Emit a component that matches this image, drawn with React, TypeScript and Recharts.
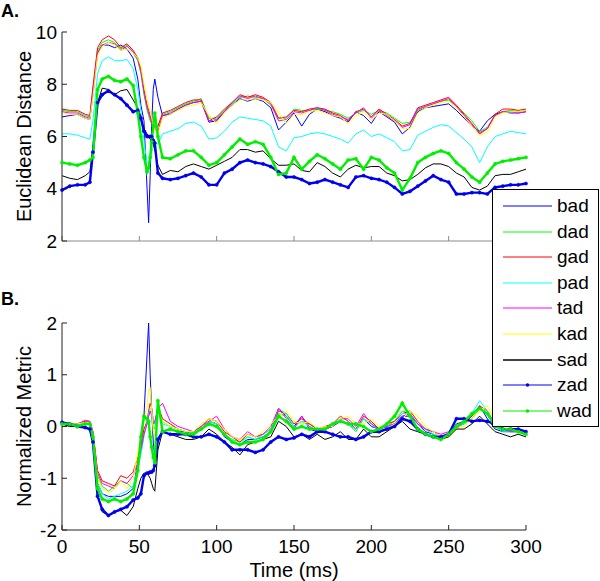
import React from "react";
import { LineChart, Line, XAxis, YAxis } from "recharts";

// sample times (ms); denser around the onset transient
const TIME = [
  0, 5, 10, 15, 18, 20, 23, 26, 30, 34, 38, 42, 46, 49, 51, 53, 55, 56, 57, 58, 59, 60, 62, 65,
  70, 75, 80, 85, 90, 95, 100, 105, 110, 115,
  120, 125, 130, 135, 140, 145, 150, 155, 160, 165,
  170, 175, 180, 185, 190, 195, 200, 205, 210, 215,
  220, 225, 230, 235, 240, 245, 250, 255, 260, 265,
  270, 275, 280, 285, 290, 295, 300,
];

const X_TICKS = [0, 50, 100, 150, 200, 250, 300];
const A_TICKS = [2, 4, 6, 8, 10];
const B_TICKS = [-2, -1, 0, 1, 2];

// --- panel A: Euclidean distance ---
const BAD_A = [
  6.75, 6.8, 6.85, 6.7, 6.65, 7.6, 9.2, 9.5, 9.5, 9.4, 9.5, 9.35, 9.0, 8.2, 7.2, 6.6, 4.0, 2.7, 4.5, 6.5, 7.8, 8.2, 7.5, 6.8,
  6.85, 7.05, 7.2, 7.3, 7.35, 6.55, 6.6, 6.95, 7.2, 7.45,
  7.35, 7.45, 7.35, 7.1, 6.25, 6.55, 6.9, 6.4, 6.85, 7.05,
  6.95, 6.8, 6.7, 6.55, 6.95, 6.8, 6.5, 6.95, 6.75, 6.55,
  6.1, 6.35, 6.95, 7.1, 7.15, 7.2, 7.25, 7.0, 6.7, 6.4,
  6.2, 6.6, 6.85, 6.95, 6.9, 6.9, 6.95,
];
const DAD_A = [
  7.0, 6.95, 6.95, 6.8, 6.75, 7.8, 9.3, 9.6, 9.7, 9.6, 9.35, 9.5, 9.2, 8.9, 8.4, 7.6, 7.0, 6.8, 6.6, 6.5, 6.4, 6.35, 6.35, 6.85,
  6.95, 7.1, 7.25, 7.35, 7.45, 6.7, 6.7, 7.0, 7.25, 7.5,
  7.55, 7.5, 7.45, 7.2, 6.7, 6.7, 7.05, 7.0, 7.0, 7.05,
  7.0, 6.95, 6.85, 6.7, 6.9, 7.0, 6.85, 7.0, 6.9, 6.7,
  6.5, 6.55, 7.0, 7.15, 7.25, 7.35, 7.4, 7.15, 6.9, 6.6,
  6.2, 6.35, 6.8, 6.95, 7.0, 6.95, 7.0,
];
const GAD_A = [
  7.05, 7.0, 7.0, 6.85, 6.8, 7.9, 9.4, 9.7, 9.85, 9.7, 9.4, 9.55, 9.3, 9.0, 8.6, 7.8, 7.2, 7.0, 6.8, 6.6, 6.5, 6.4, 6.4, 6.9,
  7.0, 7.15, 7.3, 7.4, 7.4, 6.6, 6.75, 7.05, 7.3, 7.6,
  7.5, 7.6, 7.5, 7.3, 6.7, 6.75, 7.0, 6.95, 7.05, 7.1,
  7.05, 6.9, 6.8, 6.6, 6.95, 7.05, 6.75, 7.05, 6.85, 6.65,
  6.4, 6.5, 7.1, 7.2, 7.3, 7.4, 7.5, 7.2, 6.85, 6.5,
  6.1, 6.3, 6.85, 7.05, 7.05, 7.0, 7.05,
];
const PAD_A = [
  6.1, 6.1, 6.05, 5.95, 5.9, 6.6, 8.4, 8.9, 9.05, 8.9, 8.9, 8.95, 8.6, 7.8, 7.0, 5.8, 5.0, 5.0, 5.2, 5.4, 5.6, 5.8, 5.7, 6.1,
  6.2, 6.3, 6.5, 6.55, 6.4, 5.9, 5.95, 6.2, 6.55, 6.75,
  6.7, 6.65, 6.6, 6.4, 5.6, 5.45, 5.95, 6.0, 6.1, 6.15,
  6.1, 6.0, 5.9, 5.75, 6.1, 6.25, 6.0, 6.1, 5.95, 5.8,
  5.45, 5.5, 6.05, 6.2, 6.35, 6.45, 6.4, 6.15, 5.9, 5.6,
  5.0, 5.6, 6.0, 6.1, 6.2, 6.15, 6.1,
];
const TAD_A = [
  6.95, 6.9, 6.9, 6.75, 6.7, 7.7, 9.2, 9.5, 9.6, 9.55, 9.3, 9.45, 9.25, 8.95, 8.5, 7.7, 7.1, 6.9, 6.7, 6.5, 6.4, 6.3, 6.2, 6.8,
  6.9, 7.05, 7.2, 7.3, 7.35, 6.6, 6.65, 6.95, 7.3, 7.55,
  7.45, 7.55, 7.45, 7.25, 6.6, 6.65, 6.95, 6.9, 7.0, 7.1,
  7.0, 6.85, 6.75, 6.65, 6.9, 7.1, 6.7, 7.0, 6.8, 6.6,
  6.35, 6.45, 7.05, 7.15, 7.25, 7.35, 7.45, 7.15, 6.8, 6.45,
  6.15, 6.3, 6.8, 6.95, 6.95, 6.9, 6.95,
];
const KAD_A = [
  6.9, 6.85, 6.85, 6.7, 6.65, 7.5, 9.1, 9.45, 9.6, 9.5, 9.3, 9.35, 9.2, 9.0, 8.7, 8.0, 7.4, 7.2, 7.0, 6.7, 6.4, 6.2, 6.1, 6.7,
  6.85, 7.0, 7.15, 7.2, 7.3, 6.8, 6.5, 6.9, 7.2, 7.4,
  7.4, 7.45, 7.4, 7.3, 6.9, 6.5, 6.85, 6.85, 6.95, 7.0,
  6.9, 6.8, 6.75, 6.5, 6.8, 6.95, 6.6, 6.9, 6.85, 6.6,
  6.3, 6.3, 6.9, 7.1, 7.2, 7.3, 7.35, 7.1, 6.75, 6.4,
  6.05, 6.15, 6.75, 6.9, 6.95, 6.95, 7.0,
];
const SAD_A = [
  4.5, 4.4, 4.35, 4.5, 4.65, 5.5, 7.3, 7.85, 7.8, 7.6, 7.75, 7.8, 7.4, 7.1, 6.7, 6.3, 6.1, 6.0, 5.9, 5.8, 5.7, 5.5, 4.9, 4.55,
  4.7, 4.65, 4.85, 4.95, 4.85, 4.75, 4.9, 5.05, 5.2, 5.5,
  5.5, 5.4, 5.45, 5.15, 4.9, 4.9, 4.95, 4.7, 4.65, 5.0,
  4.85, 4.6, 4.45, 4.75, 4.9, 4.8, 4.85, 4.85, 4.6, 4.5,
  4.3, 4.35, 4.55, 4.8, 4.95, 4.95, 4.85, 4.6, 4.45, 4.05,
  3.95, 4.1, 4.5, 4.55, 4.55, 4.65, 4.75,
];
const ZAD_A = [
  3.95, 4.1, 4.15, 4.15, 4.25, 5.4, 7.3, 7.6, 7.75, 7.6, 7.45, 7.2, 6.95, 7.0, 6.7, 6.2, 6.0, 6.0, 6.0, 6.0, 5.85, 5.75, 4.6, 4.4,
  4.35, 4.4, 4.5, 4.6, 4.45, 4.15, 4.15, 4.6, 4.75, 5.0,
  5.1, 5.0, 4.95, 4.85, 4.65, 4.45, 4.45, 4.35, 4.2, 4.25,
  4.35, 4.25, 4.15, 4.05, 4.45, 4.5, 4.4, 4.35, 4.25, 4.05,
  3.8, 3.9, 4.1, 4.3, 4.5, 4.35, 4.25, 3.8, 3.8, 3.85,
  3.85, 3.8, 4.05, 4.1, 4.15, 4.15, 4.2,
];
const WAD_A = [
  5.0, 4.95, 4.9, 5.0, 5.1, 5.2, 7.8, 8.2, 8.3, 8.15, 8.1, 8.2, 7.95, 6.9, 6.0, 5.2, 4.65, 4.8, 5.2, 5.8, 6.4, 6.9, 6.0, 5.2,
  5.15, 5.3, 5.45, 5.45, 5.2, 4.9, 5.0, 5.3, 5.6, 5.9,
  5.7, 5.8, 5.7, 5.2, 4.55, 4.6, 5.2, 4.75, 5.05, 5.3,
  5.15, 4.95, 4.75, 5.1, 5.15, 4.75, 5.2, 5.1, 4.8, 4.6,
  3.95, 4.4, 5.0, 5.2, 5.35, 5.45, 5.35, 5.0, 4.75, 4.45,
  4.25, 4.6, 4.95, 5.05, 5.1, 5.15, 5.2,
];

// --- panel B: normalized metric ---
const BAD_B = [
  0.05, 0.05, 0.05, 0.05, 0.05, -0.2, -1.1, -1.3, -1.35, -1.35, -1.35, -1.3, -1.2, -0.7, -0.4, 0.2, 1.4, 2.0, 1.0, 0.3, -0.3, -0.6, -0.3, -0.1,
  -0.05, -0.1, -0.1, -0.15, -0.05, 0.1, 0.05, -0.2, -0.3, -0.35,
  -0.25, -0.25, -0.2, -0.1, 0.35, 0.2, 0.0, 0.2, -0.05, -0.1,
  -0.05, 0.0, 0.1, 0.05, -0.05, 0.15, 0.0, -0.05, 0.0, 0.05,
  0.2, 0.2, 0.05, -0.1, -0.15, -0.25, -0.15, 0.05, 0.1, 0.2,
  0.4, 0.15, -0.05, -0.1, -0.1, -0.1, -0.15,
];
const DAD_B = [
  0.05, 0.05, 0.05, 0.08, 0.08, -0.15, -0.95, -1.15, -1.25, -1.15, -1.05, -1.1, -1.2, -0.85, -0.5, -0.15, 0.05, 0.2, 0.3, 0.25, 0.0, -0.05, 0.35, 0.1,
  0.0, -0.05, -0.1, -0.12, -0.05, 0.1, 0.05, -0.15, -0.25, -0.3,
  -0.2, -0.25, -0.2, -0.1, 0.25, 0.2, 0.0, 0.1, 0.05, -0.05,
  -0.05, 0.05, 0.1, 0.05, -0.1, 0.15, 0.05, -0.05, 0.0, 0.1,
  0.3, 0.25, 0.05, -0.05, -0.15, -0.2, -0.15, 0.0, 0.05, 0.15,
  0.35, 0.25, 0.0, -0.05, -0.1, -0.1, -0.15,
];
const GAD_B = [
  0.05, 0.05, 0.05, 0.1, 0.1, -0.1, -0.85, -1.05, -1.1, -1.15, -0.95, -1.0, -0.88, -0.6, -0.35, -0.05, 0.1, 0.3, 0.45, 0.35, 0.1, 0.05, 0.4, 0.15,
  0.05, -0.05, -0.1, -0.1, 0.0, 0.15, 0.1, -0.1, -0.2, -0.3,
  -0.15, -0.2, -0.15, -0.05, 0.3, 0.25, 0.05, 0.15, 0.05, -0.05,
  0.0, 0.05, 0.2, 0.1, -0.05, 0.2, 0.1, -0.05, 0.05, 0.1,
  0.25, 0.3, 0.1, -0.05, -0.1, -0.2, -0.15, 0.0, 0.05, 0.2,
  0.4, 0.3, 0.05, -0.05, -0.05, -0.1, -0.1,
];
const PAD_B = [
  0.05, 0.0, 0.05, 0.05, 0.05, -0.2, -1.1, -1.3, -1.4, -1.35, -1.3, -1.25, -1.15, -0.8, -0.55, -0.2, 0.1, 0.25, 0.35, 0.3, 0.15, 0.05, 0.3, 0.05,
  0.0, -0.05, -0.1, -0.1, -0.05, 0.1, 0.05, -0.15, -0.25, -0.35,
  -0.2, -0.25, -0.15, -0.05, 0.35, 0.25, 0.0, 0.1, 0.0, -0.05,
  -0.05, 0.05, 0.15, 0.05, -0.05, 0.15, 0.05, -0.1, 0.0, 0.05,
  0.25, 0.25, 0.05, -0.05, -0.15, -0.2, -0.15, 0.0, 0.05, 0.25,
  0.5, 0.3, 0.0, -0.1, -0.1, -0.1, -0.15,
];
const TAD_B = [
  0.05, 0.05, 0.05, 0.12, 0.1, -0.1, -0.9, -1.1, -1.15, -1.2, -1.05, -1.1, -0.95, -0.7, -0.45, -0.15, 0.05, 0.2, 0.3, 0.2, 0.05, 0.1, 0.35, 0.45,
  0.1, 0.0, -0.05, -0.1, 0.0, 0.1, 0.2, -0.05, -0.2, -0.25,
  -0.1, -0.2, -0.15, 0.0, 0.35, 0.15, -0.05, 0.2, 0.0, -0.1,
  -0.05, 0.0, 0.15, 0.15, 0.0, 0.25, 0.05, -0.05, 0.0, 0.05,
  0.2, 0.25, 0.05, -0.05, -0.1, -0.15, -0.1, -0.05, 0.1, 0.25,
  0.35, 0.25, 0.0, -0.05, -0.1, -0.1, -0.15,
];
const KAD_B = [
  0.0, 0.05, 0.05, 0.08, 0.08, -0.15, -1.0, -1.2, -1.3, -1.2, -1.05, -1.2, -1.0, -0.5, -0.2, 0.1, 0.4, 0.7, 0.75, 0.3, -0.1, -0.2, 0.3, 0.1,
  0.0, -0.05, -0.1, -0.1, 0.05, 0.15, 0.1, -0.05, -0.2, -0.25,
  -0.15, -0.2, -0.1, 0.05, 0.2, 0.3, 0.1, 0.05, 0.1, -0.05,
  0.0, 0.0, 0.15, 0.2, 0.05, 0.05, 0.15, 0.0, -0.05, 0.05,
  0.15, 0.3, 0.2, 0.0, -0.1, -0.2, -0.2, -0.05, 0.0, 0.15,
  0.3, 0.4, 0.1, -0.05, -0.05, -0.1, -0.1,
];
const SAD_B = [
  0.05, 0.0, 0.0, 0.05, 0.05, -0.2, -1.3, -1.65, -1.72, -1.65, -1.62, -1.72, -1.55, -1.2, -1.0, -0.9, -0.9, -0.95, -1.0, -1.1, -1.2, -1.25, -0.45, -0.1,
  -0.15, -0.2, -0.25, -0.25, -0.2, -0.05, -0.15, -0.3, -0.4, -0.55,
  -0.35, -0.3, -0.25, -0.2, 0.1, 0.0, -0.2, -0.15, -0.25, -0.15,
  -0.25, -0.2, -0.1, -0.25, -0.25, -0.05, -0.2, -0.2, -0.1, 0.0,
  0.1, -0.05, -0.1, -0.15, -0.2, -0.25, -0.2, -0.05, -0.05, 0.05,
  0.2, 0.05, -0.1, -0.15, -0.2, -0.15, -0.2,
];
const ZAD_B = [
  0.08, 0.05, 0.0, -0.02, -0.05, -0.3, -1.35, -1.6, -1.72, -1.65, -1.6, -1.55, -1.42, -1.38, -1.3, -0.95, -0.9, -0.9, -0.88, -0.88, -0.85, -0.75, -0.25, -0.1,
  -0.15, -0.15, -0.15, -0.2, -0.2, -0.15, -0.2, -0.3, -0.45, -0.45,
  -0.45, -0.5, -0.45, -0.3, -0.2, -0.25, -0.22, -0.15, -0.2, -0.1,
  -0.1, -0.15, -0.2, -0.2, -0.25, -0.2, -0.1, -0.1, -0.05, 0.0,
  0.15, 0.1, -0.05, -0.15, -0.2, -0.2, -0.15, 0.15, 0.15, 0.1,
  0.12, 0.1, 0.05, -0.05, -0.05, -0.05, -0.1,
];
const WAD_B = [
  0.05, 0.05, 0.0, 0.05, 0.05, -0.2, -1.2, -1.4, -1.45, -1.4, -1.45, -1.4, -1.3, -0.85, -0.2, 0.2, 0.15, 0.1, -0.2, -0.4, -0.6, -0.7, 0.5, -0.1,
  -0.05, -0.1, -0.15, -0.15, -0.05, 0.05, 0.0, -0.15, -0.3, -0.35,
  -0.3, -0.3, -0.25, -0.1, 0.2, 0.1, -0.05, 0.0, -0.05, -0.05,
  -0.05, 0.05, 0.1, 0.05, 0.05, 0.0, -0.1, -0.05, 0.05, 0.2,
  0.45, 0.2, -0.05, -0.15, -0.2, -0.25, -0.15, 0.0, 0.1, 0.25,
  0.35, 0.25, 0.0, -0.05, -0.05, -0.1, -0.15,
];

const SERIES = [
  { key: "bad", color: "#0000ff", thick: false },
  { key: "dad", color: "#00ff00", thick: false },
  { key: "gad", color: "#ff0000", thick: false },
  { key: "pad", color: "#00ffff", thick: false },
  { key: "tad", color: "#ff00ff", thick: false },
  { key: "kad", color: "#ffff00", thick: false },
  { key: "sad", color: "#000000", thick: false },
  { key: "zad", color: "#0000ee", thick: true },
  { key: "wad", color: "#00ee00", thick: true },
];

const rowsA = TIME.map((t, i) => ({
  t, bad: BAD_A[i], dad: DAD_A[i], gad: GAD_A[i], pad: PAD_A[i], tad: TAD_A[i],
  kad: KAD_A[i], sad: SAD_A[i], zad: ZAD_A[i], wad: WAD_A[i],
}));
const rowsB = TIME.map((t, i) => ({
  t, bad: BAD_B[i], dad: DAD_B[i], gad: GAD_B[i], pad: PAD_B[i], tad: TAD_B[i],
  kad: KAD_B[i], sad: SAD_B[i], zad: ZAD_B[i], wad: WAD_B[i],
}));

const FONT = "'Liberation Sans', Arial, Helvetica, sans-serif";
const tickStyle = { fill: "#000", fontSize: 19, fontFamily: FONT };

const yLabel = (text: string) => (props: any) => {
  const vb = props.viewBox || {};
  const cx = 31;
  const cy = (vb.y ?? 0) + (vb.height ?? 0) / 2;
  return (
    <text x={cx} y={cy} transform={`rotate(-90 ${cx} ${cy})`} textAnchor="middle"
      fontSize={20} fontFamily={FONT} fill="#000">
      {text}
    </text>
  );
};

const xLabel = (props: any) => {
  const vb = props.viewBox || {};
  const cx = (vb.x ?? 0) + (vb.width ?? 0) / 2;
  return (
    <text x={cx} y={297} textAnchor="middle" fontSize={20} fontFamily={FONT} fill="#000">
      Time (ms)
    </text>
  );
};

function renderLines() {
  return SERIES.map((s) => (
    <Line
      key={s.key}
      type="linear"
      dataKey={s.key}
      stroke={s.color}
      strokeWidth={s.thick ? 2.4 : 1}
      dot={s.thick ? { r: 1.6, fill: s.color, stroke: s.color, strokeWidth: 0.5 } : false}
      activeDot={false}
      isAnimationActive={false}
    />
  ));
}

function PanelLetter({ text, top }: { text: string; top: number }) {
  return (
    <svg width={40} height={30} style={{ position: "absolute", left: 0, top }}>
      <text x={1} y={17} fontSize={18} fontWeight="bold" fontFamily={FONT}>{text}</text>
    </svg>
  );
}

function LegendBox() {
  return (
    <div style={{
      position: "absolute", left: 492, top: 189, width: 107, height: 238,
      boxSizing: "border-box", border: "1px solid #000", background: "#fff",
      zIndex: 10, fontFamily: FONT, fontSize: 19,
    }}>
      {SERIES.map((s, i) => (
        <div key={s.key} style={{ position: "absolute", left: 0, top: 3 + i * 25.6, height: 25.6, width: "100%" }}>
          <svg width={52} height={26} style={{ position: "absolute", left: 9, top: 0 }}>
            <line x1={1} x2={50} y1={13} y2={13} stroke={s.color} strokeWidth={s.key === "sad" ? 1.5 : 1} />
            {s.thick && <circle cx={25.5} cy={13} r={1.8} fill={s.color} />}
          </svg>
          <span style={{ position: "absolute", left: 64, top: 1, lineHeight: "24px" }}>{s.key}</span>
        </div>
      ))}
    </div>
  );
}

export default function App() {
  return (
    <div style={{ position: "absolute", left: 0, top: 0, width: 600, height: 581, background: "#fff" }}>
      <PanelLetter text="A." top={0} />
      <PanelLetter text="B." top={288} />
      <div style={{ position: "absolute", left: 0, top: 0 }}>
        <LineChart width={600} height={261} data={rowsA} margin={{ top: 32, right: 74, bottom: 0, left: 0 }}>
          <XAxis
            type="number" dataKey="t" domain={[0, 300]} ticks={X_TICKS} interval={0}
            height={20} tickSize={-5} tickFormatter={() => ""}
            axisLine={{ stroke: "#8a8a8a" }} tickLine={{ stroke: "#8a8a8a" }}
          />
          <YAxis
            type="number" domain={[2, 10]} ticks={A_TICKS} interval={0} width={62}
            tickSize={-5} tickMargin={10} tick={tickStyle}
            axisLine={{ stroke: "#222" }} tickLine={{ stroke: "#222" }}
            label={{ content: yLabel("Euclidean Distance") }}
          />
          {renderLines()}
        </LineChart>
      </div>
      <div style={{ position: "absolute", left: 0, top: 280 }}>
        <LineChart width={600} height={301} data={rowsB} margin={{ top: 43, right: 74, bottom: 0, left: 0 }}>
          <XAxis
            type="number" dataKey="t" domain={[0, 300]} ticks={X_TICKS} interval={0}
            height={51} tickSize={-5} tickMargin={15} tick={tickStyle}
            axisLine={{ stroke: "#222" }} tickLine={{ stroke: "#222" }}
            label={{ content: xLabel }}
          />
          <YAxis
            type="number" domain={[-2, 2]} ticks={B_TICKS} interval={0} width={62}
            tickSize={-5} tickMargin={10} tick={tickStyle}
            axisLine={{ stroke: "#222" }} tickLine={{ stroke: "#222" }}
            label={{ content: yLabel("Normalized Metric") }}
          />
          {renderLines()}
        </LineChart>
      </div>
      <LegendBox />
    </div>
  );
}
